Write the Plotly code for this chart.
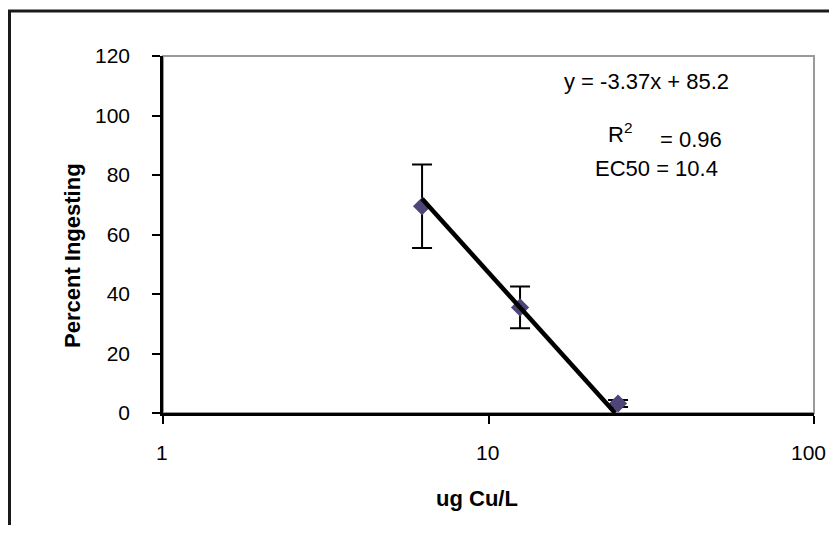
import math
import plotly.graph_objects as go

# Data
conc = [6.25, 12.5, 25]            # ug Cu/L
pct_ingesting = [69.5, 35.5, 3.2]  # Percent Ingesting
pct_err = [14, 7, 1.2]
trend_x = [6.25, 24.5]
trend_y = [72, 0]
x_ticks = [1, 10, 100]
y_ticks = [0, 20, 40, 60, 80, 100, 120]

FONT = "Arial, Liberation Sans, sans-serif"

# page has the default 8px body margin on every side; keep the figure inside
OFF = 8
PAGE_W, PAGE_H = 837, 533
W, H = PAGE_W - 2 * OFF, PAGE_H - 2 * OFF
# plot area in page pixels
L, R, T, B = 163, 814, 56, 413
pw, ph = R - L, B - T

def px(x):
    return (x - L) / pw

def py(y):
    return (B - y) / ph

fig = go.Figure()
fig.add_trace(go.Scatter(
    x=conc, y=pct_ingesting, mode="markers",
    marker=dict(symbol="diamond", size=14, color="#4F4579"),
    error_y=dict(type="data", array=pct_err, visible=True, color="black",
                 thickness=2, width=10),
    showlegend=False, hoverinfo="skip"))
fig.add_trace(go.Scatter(
    x=trend_x, y=trend_y, mode="lines",
    line=dict(color="black", width=4.5),
    showlegend=False, hoverinfo="skip"))

# x tick labels as annotations on the log axis so the last one stays in the page
tick_annots = []
for i, v in enumerate(x_ticks):
    last = i == len(x_ticks) - 1
    tick_annots.append(dict(
        text=str(v), xref="x", yref="paper", x=math.log10(v), y=py(452),
        showarrow=False, font=dict(size=21),
        xanchor="right" if last else "center", yanchor="middle",
        xshift=14 if last else -1))

fig.update_layout(
    width=W, height=H,
    margin=dict(l=L - OFF, r=(OFF + W) - R, t=T - OFF, b=(OFF + H) - B, pad=0),
    paper_bgcolor="white", plot_bgcolor="white",
    font=dict(family=FONT, color="black", size=21),
    xaxis=dict(type="log", range=[0, 2], tickvals=x_ticks,
               showticklabels=False,
               showgrid=False, zeroline=False,
               showline=True, linecolor="black", linewidth=2.5,
               ticks="outside", ticklen=8, tickwidth=2, tickcolor="black"),
    yaxis=dict(range=[0, 120], tickvals=y_ticks,
               showgrid=False, zeroline=False,
               showline=True, linecolor="black", linewidth=2.5,
               ticks="outside", ticklen=8, tickwidth=2, tickcolor="black",
               ticklabelstandoff=18, tickfont=dict(size=21)),
    shapes=[
        dict(type="rect", xref="paper", yref="paper", x0=0, x1=1, y0=0, y1=1,
             line=dict(color="#9a9a9a", width=2), layer="below"),
        dict(type="rect", xref="paper", yref="paper",
             x0=px(9.5), x1=px(PAGE_W + 50), y0=py(PAGE_H + 50), y1=py(11),
             line=dict(color="#1a1a1a", width=3), layer="below"),
    ],
    annotations=tick_annots + [
        dict(text="y = -3.37x + 85.2", xref="paper", yref="paper",
             x=px(646), y=py(82), showarrow=False, font=dict(size=22),
             xanchor="center", yanchor="middle"),
        dict(text="R<sup>2</sup>", xref="paper", yref="paper",
             x=px(620), y=py(133), showarrow=False, font=dict(size=22),
             xanchor="center", yanchor="middle"),
        dict(text="= 0.96", xref="paper", yref="paper",
             x=px(691), y=py(139), showarrow=False, font=dict(size=22),
             xanchor="center", yanchor="middle"),
        dict(text="EC50 = 10.4", xref="paper", yref="paper",
             x=px(656), y=py(168), showarrow=False, font=dict(size=22),
             xanchor="center", yanchor="middle"),
        dict(text="<b>ug Cu/L</b>", xref="paper", yref="paper",
             x=px(477), y=py(498), showarrow=False, font=dict(size=22),
             xanchor="center", yanchor="middle"),
        dict(text="<b>Percent Ingesting</b>", xref="paper", yref="paper",
             x=px(72), y=py(256), showarrow=False, font=dict(size=22),
             textangle=-90, xanchor="center", yanchor="middle"),
    ],
)

fig.write_html("out.html")
